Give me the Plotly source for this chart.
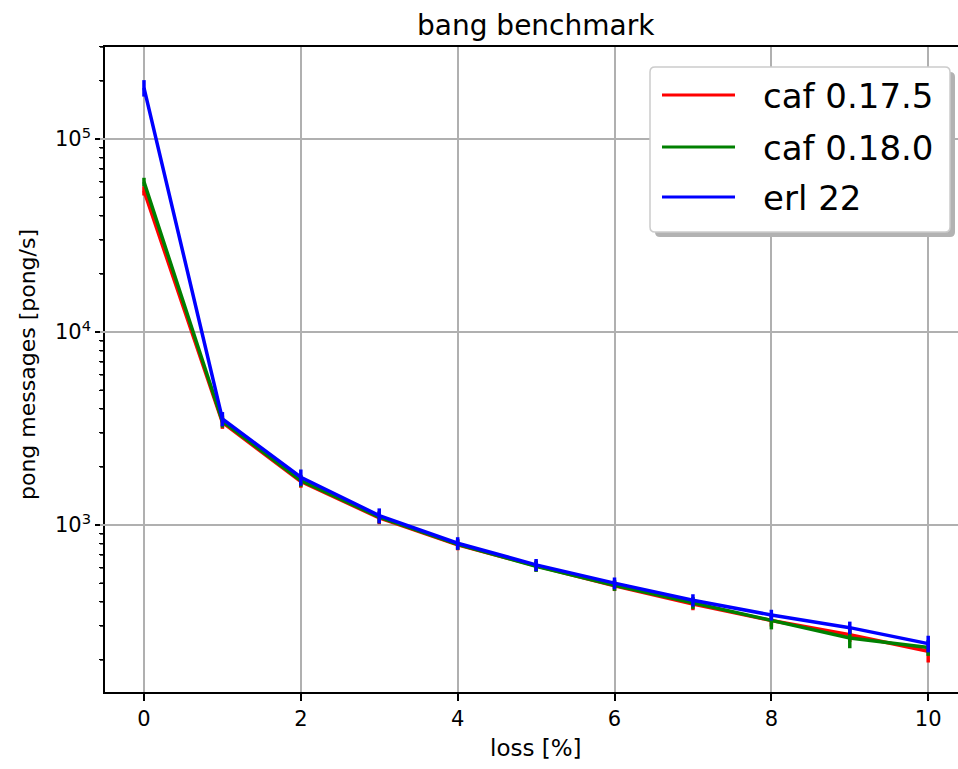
import plotly.graph_objects as go

# ---- data ----
loss = [0, 1, 2, 3, 4, 5, 6, 7, 8, 9, 10]
series_names = ["caf 0.17.5", "caf 0.18.0", "erl 22"]
caf_0175 = [54000, 3400, 1680, 1090, 790, 615, 485, 390, 320, 270, 222]
caf_0175_err = [3000, 250, 120, 80, 50, 40, 30, 28, 22, 22, 28]
caf_0180 = [60000, 3450, 1700, 1100, 795, 612, 488, 396, 318, 260, 232]
caf_0180_err = [3000, 250, 120, 80, 50, 40, 32, 28, 30, 30, 22]
erl_22 = [184000, 3550, 1770, 1120, 805, 622, 500, 408, 342, 294, 243]
erl_22_err = [18000, 300, 170, 100, 60, 45, 35, 30, 22, 22, 24]
colors = ["#ff0000", "#008000", "#0000ff"]
x_ticks = [0, 2, 4, 6, 8, 10]
y_major_ticks = [1000, 10000, 100000]
y_major_labels = ["10<sup>3</sup>", "10<sup>4</sup>", "10<sup>5</sup>"]
y_minor_ticks = [200, 300, 400, 500, 600, 700, 800, 900,
                 2000, 3000, 4000, 5000, 6000, 7000, 8000, 9000,
                 20000, 30000, 40000, 50000, 60000, 70000, 80000, 90000,
                 200000, 300000]

W, H = 958, 769
L, R, T, B = 105, 958, 47, 692  # plot area in pixels
FONT = "DejaVu Sans"
X_RANGE = [-0.497, 10.38]
Y_RANGE = [2.135, 5.477]


def px(x):
    # paper spans the full width (left/right margins are 0)
    return x / W


def py(y):
    return (B - y) / (B - T)


fig = go.Figure()
for name, vals, errs, col in zip(series_names, [caf_0175, caf_0180, erl_22],
                                 [caf_0175_err, caf_0180_err, erl_22_err], colors):
    fig.add_trace(go.Scatter(
        x=loss, y=vals, mode="lines", name=name,
        line=dict(color=col, width=3.5),
        error_y=dict(type="data", array=errs, visible=True, width=0,
                     thickness=3.5, color=col),
        showlegend=False,
    ))

# minor ticks of the log y axis, drawn in a thin strip just left of the spine
mx, my = [], []
for v in y_minor_ticks:
    mx += [0, 1, None]
    my += [v, v, None]
fig.add_trace(go.Scatter(
    x=mx, y=my, xaxis="x2", yaxis="y", mode="lines",
    line=dict(color="black", width=1.5),
    showlegend=False, hoverinfo="skip", connectgaps=False,
))
# invisible trace so the overlaid minor-tick axis is rendered
fig.add_trace(go.Scatter(x=[loss[0]], y=[erl_22[0]], xaxis="x", yaxis="y2",
                         mode="markers", marker=dict(opacity=0),
                         showlegend=False, hoverinfo="skip"))


# ---- custom legend (matplotlib style with shadow) ----
def rrect(x0, y0, x1, y1, r):
    pts = [
        f"M {px(x0 + r)},{py(y0)}",
        f"L {px(x1 - r)},{py(y0)}",
        f"Q {px(x1)},{py(y0)} {px(x1)},{py(y0 + r)}",
        f"L {px(x1)},{py(y1 - r)}",
        f"Q {px(x1)},{py(y1)} {px(x1 - r)},{py(y1)}",
        f"L {px(x0 + r)},{py(y1)}",
        f"Q {px(x0)},{py(y1)} {px(x0)},{py(y1 - r)}",
        f"L {px(x0)},{py(y0 + r)}",
        f"Q {px(x0)},{py(y0)} {px(x0 + r)},{py(y0)}",
        "Z",
    ]
    return " ".join(pts)


shapes = []
shapes.append(dict(type="path", xref="paper", yref="paper",
                   path=rrect(655, 72, 955, 237, 5),
                   fillcolor="#b2b2b2", line=dict(width=0), layer="above"))
shapes.append(dict(type="path", xref="paper", yref="paper",
                   path=rrect(650, 67, 950, 232, 5),
                   fillcolor="white", line=dict(color="#cccccc", width=1.5),
                   layer="above"))
annotations = []
for i, (name, col) in enumerate(zip(series_names, colors)):
    yy = [95, 147, 197][i]
    shapes.append(dict(type="line", xref="paper", yref="paper",
                       x0=px(662), x1=px(735), y0=py(yy), y1=py(yy),
                       line=dict(color=col, width=3), layer="above"))
    annotations.append(dict(text=name, xref="paper", yref="paper",
                            x=px(761), y=py(yy + 1), xanchor="left", yanchor="middle",
                            showarrow=False, font=dict(size=34, color="black", family=FONT)))

# titles
annotations.append(dict(text="bang benchmark", xref="paper", yref="paper",
                        x=px(536), y=py(25), xanchor="center", yanchor="middle",
                        showarrow=False, font=dict(size=28, color="black", family=FONT)))
annotations.append(dict(text="loss [%]", xref="paper", yref="paper",
                        x=px(536), y=py(748), xanchor="center", yanchor="middle",
                        showarrow=False, font=dict(size=23, color="black", family=FONT)))
annotations.append(dict(text="pong messages [pong/s]", xref="paper", yref="paper",
                        x=px(27), y=py(365), xanchor="center", yanchor="middle",
                        textangle=-90,
                        showarrow=False, font=dict(size=22, color="black", family=FONT)))

fig.update_layout(
    width=W, height=H,
    margin=dict(l=0, r=0, t=T, b=H - B, pad=0),
    plot_bgcolor="rgba(0,0,0,0)", paper_bgcolor="white",
    font=dict(family=FONT, size=21, color="black"),
    shapes=shapes, annotations=annotations,
    showlegend=False,
    xaxis=dict(
        domain=[L / W, 1], anchor="y",
        range=X_RANGE, tickvals=x_ticks, ticktext=[str(v) for v in x_ticks],
        showgrid=True, gridcolor="#b0b0b0", gridwidth=1.5, zeroline=False,
        showline=True, linecolor="black", linewidth=1.5, mirror=True,
        ticks="outside", ticklen=7, tickwidth=1.5, tickcolor="black",
        tickfont=dict(size=21, family=FONT, color="black"),
    ),
    xaxis2=dict(
        domain=[(L - 5) / W, L / W], anchor="y", range=[0, 1],
        visible=False, showgrid=False, zeroline=False, fixedrange=True,
    ),
    yaxis=dict(
        anchor="x",
        type="log", range=Y_RANGE, tickvals=y_major_ticks, ticktext=y_major_labels,
        showgrid=True, gridcolor="#b0b0b0", gridwidth=1.5, zeroline=False,
        showline=True, linecolor="black", linewidth=1.5, mirror=False,
        ticks="outside", ticklen=8, tickwidth=1.5, tickcolor="black",
        tickfont=dict(size=21, family=FONT, color="black"),
    ),
    yaxis2=dict(
        anchor="x", overlaying="y", side="left",
        type="log", range=Y_RANGE, tickvals=y_minor_ticks,
        ticktext=[" "] * len(y_minor_ticks),
        showgrid=False, zeroline=False, showline=False,
        ticks="outside", ticklen=5, tickwidth=1.3, tickcolor="black",
        tickfont=dict(size=2, family=FONT, color="white"),
    ),
)

fig.write_html("out.html")
